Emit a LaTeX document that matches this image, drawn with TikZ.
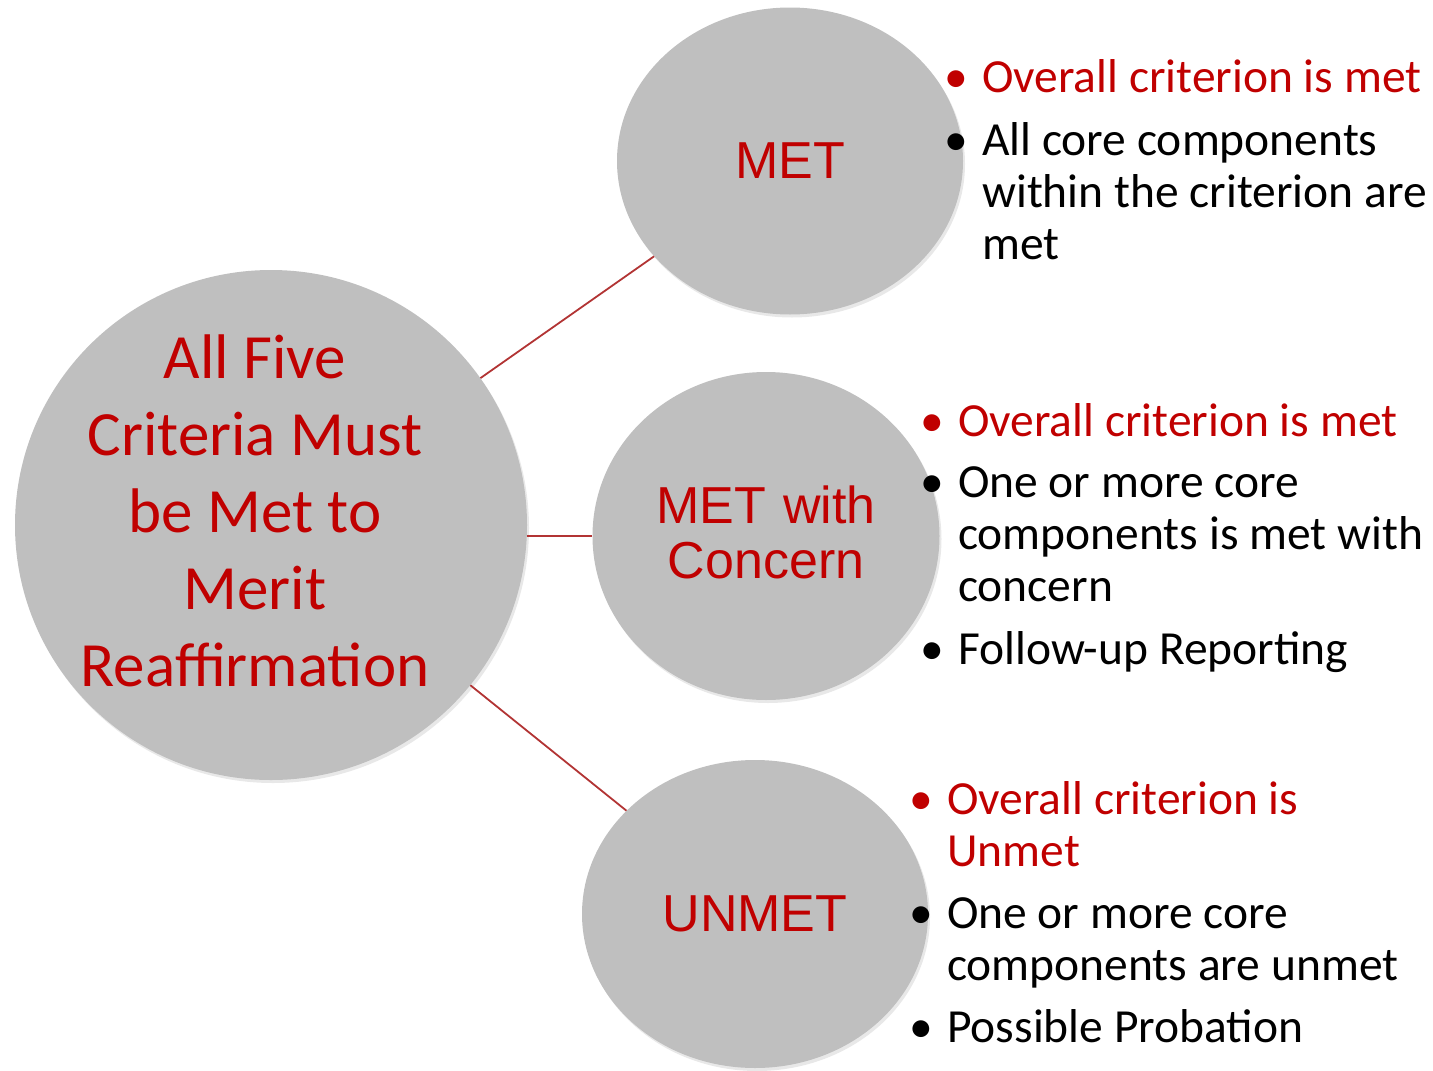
\documentclass[tikz,border=0pt]{standalone}
\usepackage{fontspec}
\setmainfont{Carlito}
\newfontfamily\arialfont{Liberation Sans}
\usetikzlibrary{shapes.geometric,shadows}
\definecolor{myred}{RGB}{192,0,0}
\definecolor{mygrey}{RGB}{191,191,191}
\definecolor{mylinered}{RGB}{178,52,52}
\def\tightsp{\spaceskip=0.226em\relax\hyphenpenalty=10000\relax}
\tikzset{
  bubble/.style={ellipse,fill=mygrey,inner sep=0pt,text=myred,align=center,
    font={\arialfont\fontsize{52}{55}\selectfont},
    drop shadow={opacity=0.18,shadow xshift=2pt,shadow yshift=-3pt}},
  bullet/.style={anchor=base west,inner sep=0pt,text width=520pt,align=left,
    font={\fontsize{47.5}{52}\selectfont}},
  link/.style={draw=mylinered,line width=1.8pt}
}
\def\bitem{\noindent\tightsp\llap{•\hskip 14pt}}

\begin{document}
\begin{tikzpicture}[x=1pt,y=-1pt]
  \useasboundingbox (0,0) rectangle (1433,1071);

  % bubbles
  \node[bubble,minimum width=512pt,minimum height=510pt] (hub) at (271,525) {};
  \node[bubble,minimum width=346pt,minimum height=307pt] (met) at (790,161) {MET};
  \node[bubble,minimum width=347pt,minimum height=328pt] (metc) at (766,536) {};
  \node[bubble,minimum width=346pt,minimum height=308pt] (unmet) at (755,914) {UNMET};

  % texts in the bubbles
  \node[anchor=base,inner sep=0pt,text width=480pt,align=center,text=myred,
    font={\fontsize{63}{77}\selectfont}] (hubtext) at (255,378)
    {\tightsp All Five\\Criteria Must\\be Met to\\Merit\\Reaffirmation};
  \node[anchor=base,inner sep=0pt,text width=340pt,align=center,text=myred,
    font={\arialfont\fontsize{52}{55}\selectfont}] (metctext) at (766,523)
    {MET with\\Concern};

  % links
  \draw[link] (hub) -- (met);
  \draw[link] (hub.east |- metc) -- (metc);
  \draw[link] (hub) -- (unmet);

  % bullets
  \node[bullet,text=myred] (m1) at (982,92) {\bitem Overall criterion is met};
  \node[bullet] (m2) at (982,155) {\bitem All core components\\within the criterion are\\met};

  \node[bullet,text=myred] (c1) at (958,436) {\bitem Overall criterion is met};
  \node[bullet] (c2) at (958,497) {\bitem One or more core\\components is met with\\concern};
  \node[bullet] (c3) at (958,664) {\bitem Follow-up Reporting};

  \node[bullet,text=myred] (u1) at (947,814) {\bitem Overall criterion is\\Unmet};
  \node[bullet] (u2) at (947,928) {\bitem One or more core\\components are unmet};
  \node[bullet] (u3) at (947,1042) {\bitem Possible Probation};

\end{tikzpicture}
\end{document}
